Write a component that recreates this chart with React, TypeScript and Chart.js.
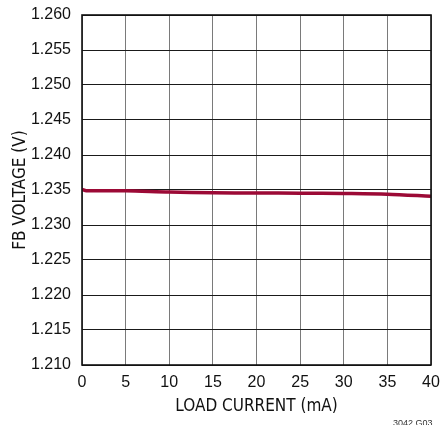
import React, { useEffect, useRef } from "react";
import { Chart, registerables } from "chart.js";

Chart.register(...registerables);

const loadCurrent = [0, 0.5, 5, 10, 15, 20, 25, 30, 35, 40];
const fbVoltage = [1.2351, 1.2349, 1.23488, 1.2347, 1.2346, 1.23458, 1.23455, 1.2345, 1.2344, 1.2341];
const xTicks = [0, 5, 10, 15, 20, 25, 30, 35, 40];
const yTickLabels = ["1.210", "1.215", "1.220", "1.225", "1.230", "1.235", "1.240", "1.245", "1.250", "1.255", "1.260"];
const xTitle = "LOAD CURRENT (mA)";
const yTitle = "FB VOLTAGE (V)";
const footnote = "3042 G03";

const narrow = "'DejaVu Sans Condensed', 'Liberation Sans', Arial, sans-serif";
const regular = "'Liberation Sans', Arial, sans-serif";

export default function App() {
  const ref = useRef<HTMLCanvasElement | null>(null);

  useEffect(() => {
    if (!ref.current) return;
    const borderPlugin = {
      id: "plotBorder",
      afterDraw(chart: any) {
        const { ctx, chartArea } = chart;
        ctx.save();
        ctx.strokeStyle = "#111";
        ctx.lineWidth = 1.6;
        ctx.strokeRect(chartArea.left, chartArea.top, chartArea.right - chartArea.left, chartArea.bottom - chartArea.top);
        ctx.restore();
      },
    };
    const chart = new Chart(ref.current, {
      type: "line",
      data: {
        datasets: [
          {
            data: loadCurrent.map((x, i) => ({ x, y: fbVoltage[i] })),
            borderColor: "#9c0a36",
            borderWidth: 3.5,
            pointRadius: 0,
            tension: 0.3,
            fill: false,
          },
        ],
      },
      options: {
        responsive: false,
        animation: false,
        devicePixelRatio: 1,
        layout: { padding: { top: 15, right: 10, left: 0, bottom: 0 } },
        plugins: { legend: { display: false }, tooltip: { enabled: false } },
        scales: {
          x: {
            type: "linear",
            min: 0,
            max: 40,
            afterBuildTicks: (scale: any) => {
              scale.ticks = xTicks.map((v) => ({ value: v }));
            },
            afterFit: (scale: any) => {
              scale.height = 60;
              scale.paddingLeft = 0;
              scale.paddingRight = 0;
            },
            grid: { color: "#7a7a7a", lineWidth: 1, drawTicks: false },
            border: { display: false },
            ticks: {
              color: "#111",
              padding: 8,
              font: { family: regular, size: 16 },
              callback: (v: any) => String(v),
            },
            title: {
              display: true,
              text: xTitle,
              color: "#111",
              font: { family: narrow, size: 17 },
              padding: { top: 0, bottom: 8 },
            },
          },
          y: {
            type: "linear",
            min: 1.21,
            max: 1.26,
            afterBuildTicks: (scale: any) => {
              scale.ticks = yTickLabels.map((t) => ({ value: parseFloat(t) }));
            },
            afterFit: (scale: any) => {
              scale.width = 82;
              scale.paddingTop = 0;
              scale.paddingBottom = 0;
            },
            grid: { color: "#1a1a1a", lineWidth: 1, drawTicks: false },
            border: { display: false },
            ticks: {
              color: "#111",
              padding: 11,
              font: { family: regular, size: 16 },
              callback: (v: any) => {
                const s = Number(v).toFixed(3);
                return yTickLabels.includes(s) ? s : "";
              },
            },
            title: {
              display: true,
              text: yTitle,
              color: "#111",
              font: { family: narrow, size: 17 },
              padding: { top: 10, bottom: 0 },
            },
          },
        },
      },
      plugins: [borderPlugin],
    } as any);
    return () => chart.destroy();
  }, []);

  return (
    <div style={{ position: "absolute", left: 0, top: 0, width: 441, height: 425, overflow: "hidden", background: "#fff" }}>
      <canvas ref={ref} width={441} height={425} style={{ display: "block", width: 441, height: 425 }} />
      <div
        style={{
          position: "absolute",
          left: 393,
          top: 418,
          fontFamily: regular,
          fontSize: 9,
          color: "#333",
          whiteSpace: "nowrap",
        }}
      >
        {footnote}
      </div>
    </div>
  );
}
